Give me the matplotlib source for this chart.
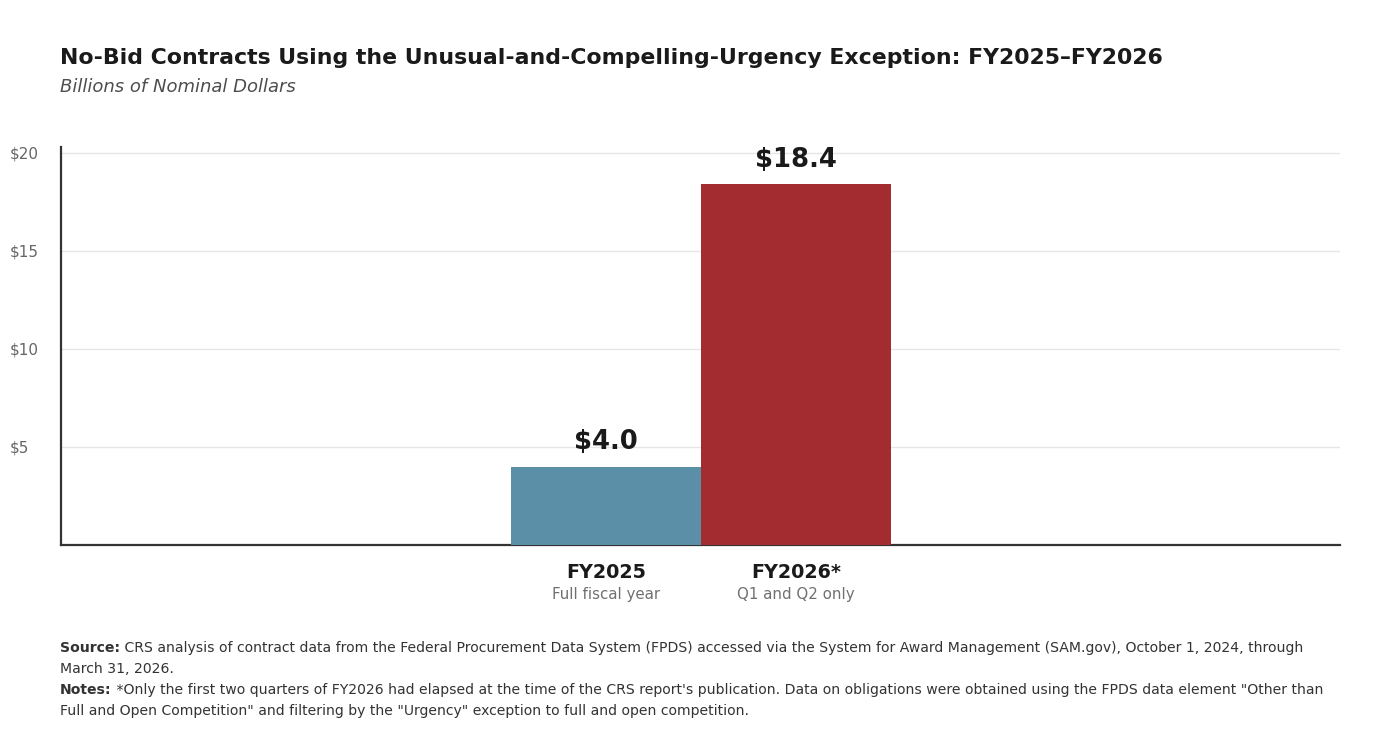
import matplotlib
matplotlib.use("Agg")
import matplotlib.pyplot as plt
from matplotlib import transforms

# Data
categories = ["FY2025", "FY2026*"]
sublabels = ["Full fiscal year", "Q1 and Q2 only"]
values = [4.0, 18.4]
value_labels = ["$4.0", "$18.4"]
yticks = [5, 10, 15, 20]
ytick_labels = ["$5", "$10", "$15", "$20"]
colors = ["#5b8fa8", "#a22c2f"]

plt.rcParams['font.family'] = ['DejaVu Sans']
plt.rcParams['text.parse_math'] = False

fig = plt.figure(figsize=(14, 7.56), dpi=100)
ax = fig.add_axes([61/1400, 1 - 545/756, (1340 - 61)/1400, (545 - 147)/756])

x = list(range(len(categories)))
ax.bar(x, values, width=1.0, color=colors, zorder=3)
ax.set_xlim(-2.868, 3.863)
ax.set_ylim(0, 20.3)

# grid
ax.set_yticks(yticks)
ax.set_yticklabels(ytick_labels)
ax.yaxis.grid(True, color="#e6e6e6", linewidth=1.0, zorder=0)
ax.set_axisbelow(True)
ax.tick_params(axis='y', length=0, pad=37, labelsize=11, labelcolor="#666666")
for lab in ax.get_yticklabels():
    lab.set_horizontalalignment('left')

ax.set_xticks(x)
ax.set_xticklabels(categories, fontsize=13.8, fontweight='bold', color="#1a1a1a")
ax.tick_params(axis='x', length=0, pad=13)

trans = transforms.blended_transform_factory(ax.transData, ax.transAxes)
for xi, s in zip(x, sublabels):
    ax.text(xi, -50/398, s, transform=trans, ha='center', va='center',
            fontsize=10.8, color="#707070")

for xi, v, lbl in zip(x, values, value_labels):
    ax.annotate(lbl, (xi, v), xytext=(0, 8), textcoords='offset points',
                ha='center', va='bottom', fontsize=18.6, fontweight='bold',
                color="#1a1a1a")

for side in ['top', 'right']:
    ax.spines[side].set_visible(False)
for side in ['left', 'bottom']:
    ax.spines[side].set_color("#333333")
    ax.spines[side].set_linewidth(1.6)

# Titles
fig.text(60/1400, 1 - 58/756, "No-Bid Contracts Using the Unusual-and-Compelling-Urgency Exception: FY2025\u2013FY2026",
         fontsize=15.8, fontweight='bold', color="#1a1a1a", ha='left', va='center')
fig.text(60/1400, 1 - 87/756, "Billions of Nominal Dollars", fontsize=13, style='italic',
         color="#4d4d4d", ha='left', va='center')

# Footnotes
foot = [
    ("Source:", " CRS analysis of contract data from the Federal Procurement Data System (FPDS) accessed via the System for Award Management (SAM.gov), October 1, 2024, through"),
    ("", "March 31, 2026."),
    ("Notes:", " *Only the first two quarters of FY2026 had elapsed at the time of the CRS report's publication. Data on obligations were obtained using the FPDS data element \"Other than"),
    ("", "Full and Open Competition\" and filtering by the \"Urgency\" exception to full and open competition."),
]
renderer = fig.canvas.get_renderer()
for i, (bold, rest) in enumerate(foot):
    y = 1 - (648 + 21*i)/756
    x0 = 60/1400
    if bold:
        t = fig.text(x0, y, bold, fontsize=10.1, fontweight='bold', color="#333333",
                     ha='left', va='center')
        w = t.get_window_extent(renderer).width / 1400
        x0 = x0 + w
    fig.text(x0, y, rest, fontsize=10.1, color="#333333", ha='left', va='center')

fig.savefig("out.png", dpi=100, facecolor='white')
